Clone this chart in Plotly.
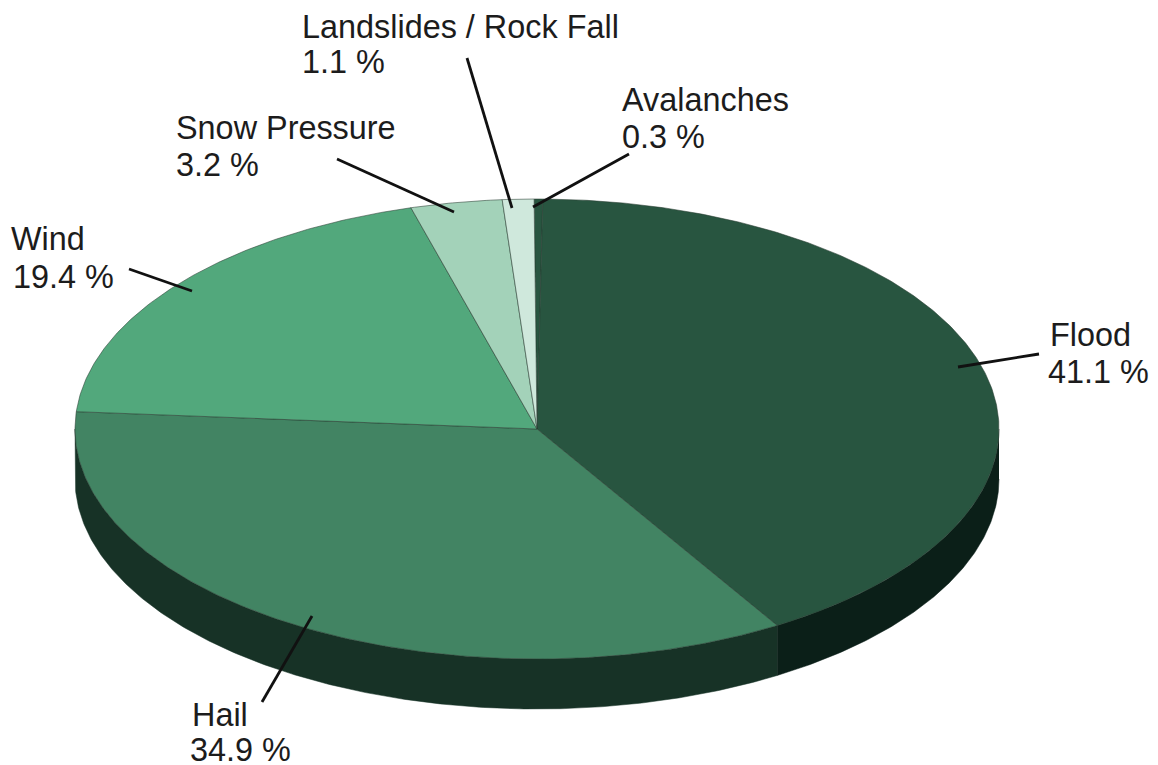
import numpy as np
import plotly.graph_objects as go

# Data: clockwise from 12 o'clock
categories = ["Avalanches", "Flood", "Hail", "Wind", "Snow Pressure", "Landslides / Rock Fall"]
shares = [0.3, 41.1, 34.9, 19.4, 3.2, 1.1]
top_colors = ["#285540", "#285540", "#428463", "#52A87C", "#A3D2B9", "#CFE8DC"]
wall_colors = ["#0B1F18", "#0B1F18", "#173226", "#173226", "#173226", "#173226"]

label_names = ["Landslides / Rock Fall", "Avalanches", "Snow Pressure", "Wind", "Flood", "Hail"]
label_values = ["1.1 %", "0.3 %", "3.2 %", "19.4 %", "41.1 %", "34.9 %"]

# Geometry of the tilted pie, in page pixels
W, H = 1158, 765
CX, CY, RX, RY, DEPTH = 537, 429, 462, 230, 50
ROTATION = -0.36  # degrees
name_pos = [(300, 27), (620, 100), (174, 128), (9, 239), (1048, 335), (190, 715)]
value_pos = [(300, 62), (620, 137), (174, 165), (11, 277), (1046, 372), (188, 750)]
leaders = [
    (467, 58, 512, 208), (629, 154, 533, 207), (337, 159, 454, 212),
    (129, 269, 192, 291), (1039, 354, 958, 367), (262, 702, 312, 616),
]


def arc(a0, a1):
    n = max(2, int(abs(a1 - a0) * 2) + 2)
    t = np.radians(np.linspace(a0, a1, n))
    return CX + RX * np.sin(t), CY - RY * np.cos(t)


fig = go.Figure()
edges = np.cumsum([0] + shares) / sum(shares) * 360 + ROTATION

# Side walls: only the front half of the rim is visible
for i, name in enumerate(categories):
    a0, a1 = max(edges[i], 90), min(edges[i + 1], 270)
    if a1 <= a0:
        continue
    x, y = arc(a0, a1)
    fig.add_trace(go.Scatter(
        x=np.r_[x, x[::-1]], y=np.r_[y, y[::-1] + DEPTH],
        mode="lines", fill="toself", fillcolor=wall_colors[i],
        line=dict(color=wall_colors[i], width=0.5),
        name=name + " side", hoverinfo="skip", showlegend=False,
    ))

# Top faces
for i, name in enumerate(categories):
    x, y = arc(edges[i], edges[i + 1])
    fig.add_trace(go.Scatter(
        x=np.r_[CX, x, CX], y=np.r_[CY, y, CY],
        mode="lines", fill="toself", fillcolor=top_colors[i],
        line=dict(color="rgba(40,60,50,0.55)", width=1),
        name=name, hoverinfo="name", showlegend=False,
    ))

for x0, y0, x1, y1 in leaders:
    fig.add_shape(type="line", x0=x0, y0=y0, x1=x1, y1=y1,
                  line=dict(color="#111111", width=2.8))

for text, (x, y) in zip(label_names + label_values, name_pos + value_pos):
    fig.add_annotation(x=x, y=y, text=text, showarrow=False, xanchor="left", yanchor="middle",
                       font=dict(family="Liberation Sans", size=32.4, color="#1c1c1c"))

fig.update_layout(
    width=W, height=H, margin=dict(l=0, r=0, t=0, b=0),
    paper_bgcolor="white", plot_bgcolor="white", showlegend=False,
    xaxis=dict(range=[0, W], visible=False, fixedrange=True),
    yaxis=dict(range=[H, 0], visible=False, fixedrange=True),
)
fig.write_html("out.html", config={"displayModeBar": False},
               post_script="document.body.style.margin='0';document.body.style.overflow='hidden';")
